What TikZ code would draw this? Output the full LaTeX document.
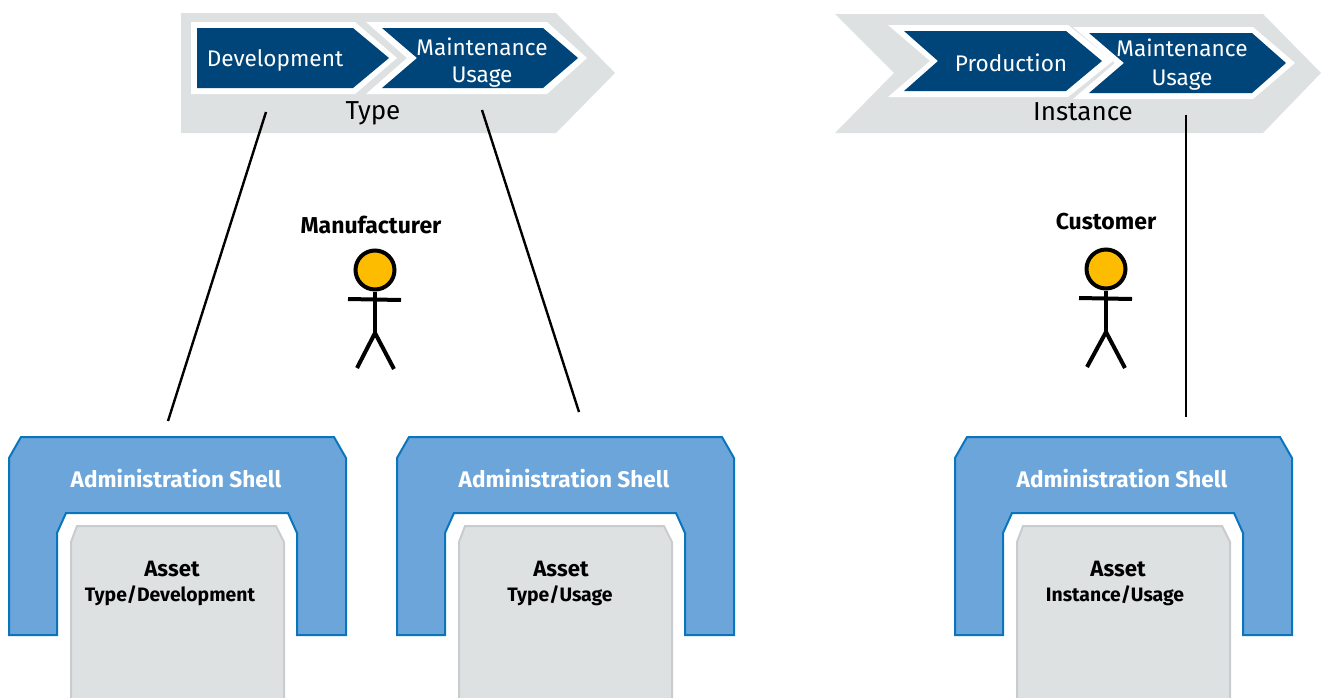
\documentclass[tikz,border=0pt]{standalone}
\usepackage{fontspec}
\setmainfont{Fira Sans}
\definecolor{navy}{RGB}{0,69,122}
\definecolor{shellblue}{RGB}{107,165,218}
\definecolor{shelledge}{RGB}{10,117,188}
\definecolor{lightgray}{RGB}{222,225,226}
\definecolor{assetedge}{RGB}{200,204,206}
\definecolor{headyellow}{RGB}{253,188,0}
\tikzset{
	band/.style={fill=lightgray},
	whitebox/.style={fill=white},
	phase/.style={fill=navy},
	phasetext/.style={text=white, font=\fontsize{11.3}{13.5}\selectfont, align=center, inner sep=0pt},
	lifetext/.style={font=\fontsize{13}{15}\selectfont, inner sep=0pt},
	roletext/.style={font=\fontsize{11.5}{13}\selectfont\bfseries, inner sep=0pt},
	shell/.style={fill=shellblue, draw=shelledge, line width=1pt, line join=miter},
	shelltext/.style={text=white, font=\fontsize{11.3}{13}\selectfont\bfseries, inner sep=0pt},
	asset/.style={fill=lightgray, draw=assetedge, line width=1pt},
	assettext/.style={font=\fontsize{11.1}{13}\selectfont\bfseries, inner sep=0pt},
	subtext/.style={font=\fontsize{9.7}{11}\selectfont\bfseries, inner sep=0pt},
	link/.style={line width=1.2pt},
	limb/.style={line width=2pt},
	head/.style={circle, draw, fill=headyellow, line width=2pt, minimum size=19.5pt, inner sep=0pt},
}
\begin{document}
\begin{tikzpicture}[x=0.5pt, y=-0.5pt]
	\useasboundingbox (0,0) rectangle (1322,697);
	% type band
	\fill[band] (181,13) -- (556,13) -- (615,73) -- (556,133) -- (181,133) -- cycle;
	\fill[whitebox] (191,22) -- (355,22) -- (397,58) -- (355,94) -- (191,94) -- cycle;
	\fill[phase] (197,28) -- (353,28) -- (389,58) -- (353,88) -- (197,88) -- cycle;
	\fill[whitebox] (366,22) -- (547,22) -- (587,58) -- (547,94) -- (366,94) -- (407,58) -- cycle;
	\fill[phase] (382,28) -- (543,28) -- (578,58) -- (543,88) -- (382,88) -- (417,58) -- cycle;
	\node[phasetext] (devText) at (275,60) {Development};
	\node[phasetext] (maintText) at (482,63) {Maintenance\\Usage};
	\node[lifetext] (typeText) at (373,113) {Type};
	% instance band
	\fill[band] (835,14) -- (1263,14) -- (1321,73) -- (1263,133) -- (835,133) -- (894,73) -- cycle;
	\fill[whitebox] (888,25) -- (1068,25) -- (1113,61) -- (1068,97) -- (888,97) -- (930,61) -- cycle;
	\fill[phase] (904,31) -- (1066,31) -- (1102,61) -- (1066,91) -- (904,91) -- (938,61) -- cycle;
	\fill[whitebox] (1073,27) -- (1253,27) -- (1295,63) -- (1253,99) -- (1073,99) -- (1115,63) -- cycle;
	\fill[phase] (1089,33) -- (1252,33) -- (1286,63) -- (1252,93) -- (1089,93) -- (1124,63) -- cycle;
	\node[phasetext] (prodText) at (1011,63) {Production};
	\node[phasetext] (maintTextB) at (1182,65) {Maintenance\\[1pt]Usage};
	\node[lifetext] (instText) at (1083,112) {Instance};
	% shells and assets
	\foreach \shellx/\assetx/\subx/\subname/\id in {0/172/170/Type\slash Development/a, 388/561/560/Type\slash Usage/b, 946/1118/1115/Instance\slash Usage/c} {
		\begin{scope}[shift={(\shellx,0)}]
			\draw[shell] (9,458) -- (21,437) -- (334,437) -- (346,458) -- (346,635) -- (297,635) -- (297,533) -- (288,513) -- (66,513) -- (57,533) -- (57,635) -- (9,635) -- cycle;
			\fill[lightgray] (71,700) -- (71,542) -- (77,526) -- (276,526) -- (284,542) -- (284,700) -- cycle;
			\draw[asset, fill=none] (71,700) -- (71,542) -- (77,526) -- (276,526) -- (284,542) -- (284,700);
			\node[shelltext] (shellText\id) at (176,479) {Administration Shell};
		\end{scope}
		\node[assettext] (assetText\id) at (\assetx,569) {Asset};
		\node[subtext] (subText\id) at (\subx,596) {\subname};
	}
	% manufacturer
	\node[roletext] (manText) at (371,225) {Manufacturer};
	\node[head] (manHead) at (375,270) {};
	\coordinate (manHip) at (375,333);
	\draw[limb] (348,299) -- (401,300);
	\draw[limb] (manHead) -- (manHip);
	\draw[limb] (manHip) -- (357,368);
	\draw[limb] (manHip) -- (394,369);
	% customer
	\node[roletext] (custText) at (1106,222) {Customer};
	\node[head] (custHead) at (1106,269) {};
	\coordinate (custHip) at (1106,332);
	\draw[limb] (1079,298) -- (1132,299);
	\draw[limb] (custHead) -- (custHip);
	\draw[limb] (custHip) -- (1087,367);
	\draw[limb] (custHip) -- (1125,368);
	% links
	\coordinate (devTop) at (266,112);
	\coordinate (devBottom) at (168,421);
	\coordinate (useTop) at (482,110);
	\coordinate (useBottom) at (579,412);
	\coordinate (instTop) at (1186,115);
	\coordinate (instBottom) at (1186,417);
	\draw[link] (devTop) -- (devBottom);
	\draw[link] (useTop) -- (useBottom);
	\draw[link] (instTop) -- (instBottom);
\end{tikzpicture}
\end{document}
